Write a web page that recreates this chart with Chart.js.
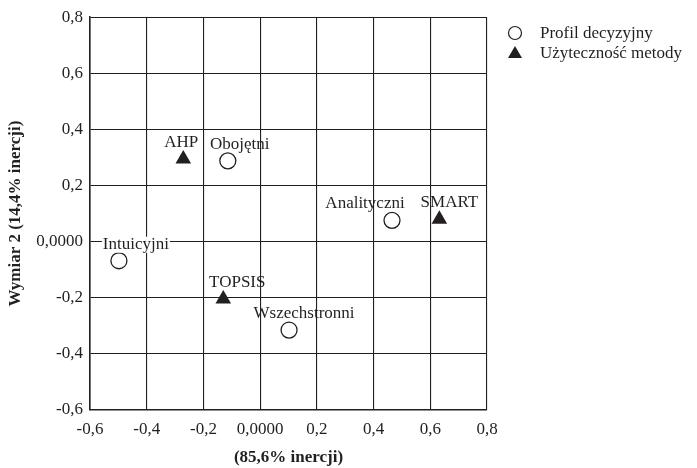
<!DOCTYPE html>
<html>
<head>
<meta charset="utf-8">
<script src="https://cdn.jsdelivr.net/npm/chart.js@4.4.1/dist/chart.umd.min.js"></script>
<style>
  html, body { margin: 0; padding: 0; background: #fff; }
  #wrap { width: 697px; height: 468px; }
</style>
</head>
<body>
<div id="wrap"><canvas id="chart"></canvas></div>
<script>
// Decision profiles (circles)
const profileNames = ['Obojętni', 'Analityczni', 'Intuicyjni', 'Wszechstronni'];
const profileX = [-0.114, 0.465, -0.498, 0.102];
const profileY = [0.288, 0.076, -0.068, -0.315];

// Method utility (triangles)
const methodNames = ['AHP', 'SMART', 'TOPSIS'];
const methodX = [-0.271, 0.632, -0.13];
const methodY = [0.295, 0.08, -0.204];

// Axis ticks
const axisMin = -0.6;
const axisMax = 0.8;
const axisStep = 0.2;

const seriesLabels = ['Profil decyzyjny', 'Użyteczność metody'];
const xTitle = '(85,6% inercji)';
const yTitle = 'Wymiar 2 (14,4% inercji)';

// horizontal nudge of each point label (px), per dataset
const labelShift = [[12, -27, 17, 15], [-2, 10, 14]];
const labelWithBg = ['Intuicyjni'];

const INK = '#231f20';
const FONT = '"Liberation Serif", "Times New Roman", serif';
const FS = 17;

function tickText(v) {
  if (Math.abs(v) < 1e-9) return '0,0000';
  return v.toFixed(1).replace('.', ',');
}

function toPoints(xs, ys) {
  return xs.map((x, i) => ({ x: x, y: ys[i] }));
}

// point labels above the markers
const pointLabels = {
  id: 'pointLabels',
  afterDatasetsDraw(chart) {
    const ctx = chart.ctx;
    const names = [profileNames, methodNames];
    ctx.save();
    ctx.font = FS + 'px ' + FONT;
    ctx.textAlign = 'center';
    ctx.textBaseline = 'alphabetic';
    chart.data.datasets.forEach((ds, di) => {
      chart.getDatasetMeta(di).data.forEach((el, i) => {
        const text = names[di][i];
        const tx = el.x + labelShift[di][i];
        const ty = el.y - 12;
        if (labelWithBg.includes(text)) {
          const w = ctx.measureText(text).width;
          ctx.fillStyle = '#fff';
          ctx.fillRect(tx - w / 2 - 1, ty - 12, w + 2, 16);
        }
        ctx.fillStyle = INK;
        ctx.fillText(text, tx, ty);
      });
    });
    ctx.restore();
  }
};

// legend in the top right corner
const sideLegend = {
  id: 'sideLegend',
  afterDraw(chart) {
    const ctx = chart.ctx;
    const mx = 515;
    const rows = [33, 53];
    ctx.save();
    ctx.strokeStyle = INK;
    ctx.fillStyle = INK;
    ctx.lineWidth = 1.2;
    ctx.beginPath();
    ctx.arc(mx, rows[0], 6.5, 0, Math.PI * 2);
    ctx.stroke();
    ctx.beginPath();
    ctx.moveTo(mx, rows[1] - 7);
    ctx.lineTo(mx + 7, rows[1] + 5);
    ctx.lineTo(mx - 7, rows[1] + 5);
    ctx.closePath();
    ctx.fill();
    ctx.font = FS + 'px ' + FONT;
    ctx.textAlign = 'left';
    ctx.textBaseline = 'middle';
    seriesLabels.forEach((t, i) => ctx.fillText(t, 540, rows[i] + 1));
    ctx.restore();
  }
};

new Chart(document.getElementById('chart'), {
  type: 'scatter',
  data: {
    datasets: [
      {
        label: seriesLabels[0],
        data: toPoints(profileX, profileY),
        pointStyle: 'circle',
        pointRadius: 8,
        pointBorderWidth: 1.3,
        pointBackgroundColor: '#fff',
        pointBorderColor: INK
      },
      {
        label: seriesLabels[1],
        data: toPoints(methodX, methodY),
        pointStyle: 'triangle',
        pointRadius: 9,
        pointBorderWidth: 0,
        pointBackgroundColor: INK,
        pointBorderColor: INK
      }
    ]
  },
  options: {
    responsive: true,
    maintainAspectRatio: false,
    animation: false,
    layout: { padding: { top: 14, right: 210, left: 0, bottom: 0 } },
    plugins: {
      legend: { display: false },
      tooltip: { enabled: false }
    },
    scales: {
      x: {
        type: 'linear',
        min: axisMin,
        max: axisMax,
        afterFit(scale) { scale.height = 58; },
        border: { color: INK, width: 1.6 },
        grid: { color: INK, lineWidth: 1.1, drawTicks: false },
        ticks: {
          stepSize: axisStep,
          padding: 9,
          color: INK,
          font: { family: FONT, size: FS },
          callback: v => tickText(v)
        },
        title: {
          display: true,
          text: xTitle,
          color: INK,
          font: { family: FONT, size: FS, weight: 'bold' },
          padding: { top: 4, bottom: 0 }
        }
      },
      y: {
        type: 'linear',
        min: axisMin,
        max: axisMax,
        afterFit(scale) { scale.width = 90; },
        border: { color: INK, width: 1.6 },
        grid: { color: INK, lineWidth: 1.1, drawTicks: false },
        ticks: {
          stepSize: axisStep,
          padding: 7,
          color: INK,
          font: { family: FONT, size: FS },
          callback: v => tickText(v)
        },
        title: {
          display: true,
          text: yTitle,
          color: INK,
          font: { family: FONT, size: FS, weight: 'bold' },
          padding: { top: 5, bottom: 0 }
        }
      }
    }
  },
  plugins: [pointLabels, sideLegend]
});
</script>
</body>
</html>
